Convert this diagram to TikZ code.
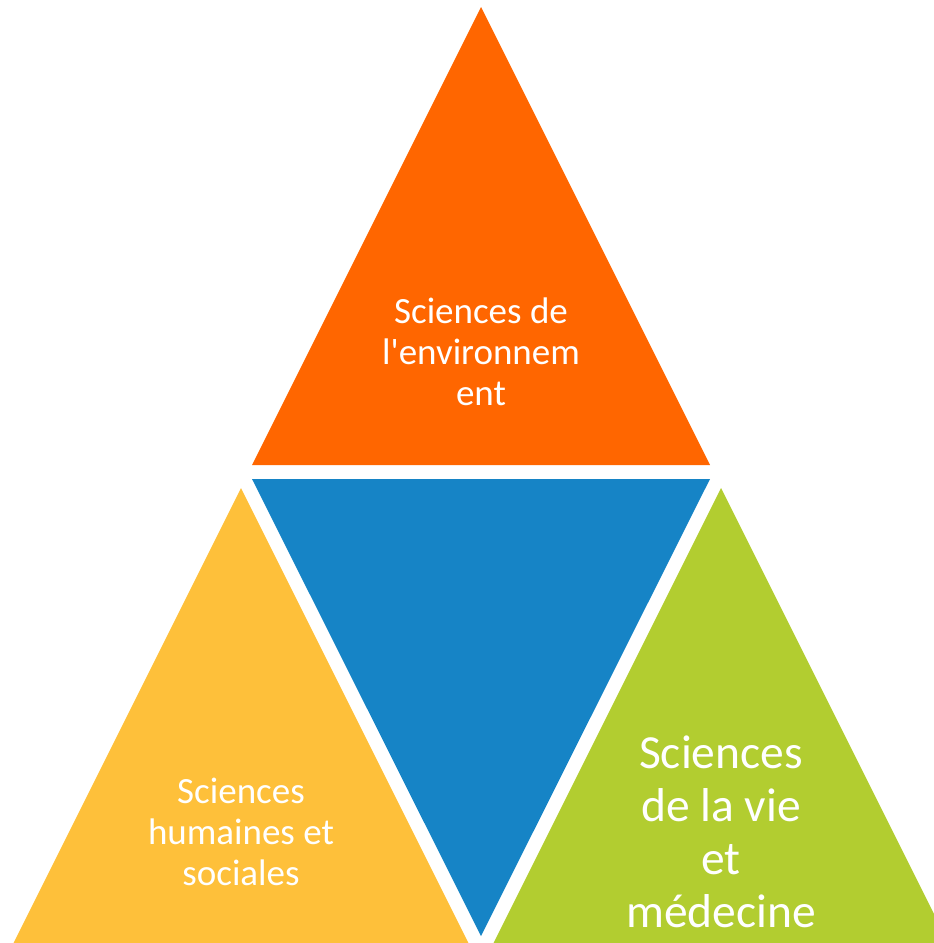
\documentclass[tikz,border=0pt]{standalone}
\usepackage{fontspec}
\newfontfamily\carlito{Carlito}
\usepackage{tikz}
\definecolor{envorange}{RGB}{255,102,0}
\definecolor{midblue}{RGB}{22,132,198}
\definecolor{humyellow}{RGB}{254,192,58}
\definecolor{viegreen}{RGB}{178,205,48}
\tikzstyle{areatext} = [text=white, align=center, font=\carlito\fontsize{37}{41}\selectfont]
\tikzstyle{bigtext} = [text=white, align=center, font=\carlito\fontsize{47.5}{53}\selectfont]
\begin{document}
\begin{tikzpicture}[x=1pt, y=-1pt]

	\useasboundingbox (0,0) rectangle (934,943);
	\clip (0,0) rectangle (934,943);


% Triangles

	\fill[envorange] (481,7) -- (710,465) -- (252,465) -- cycle;

	\fill[midblue] (252,479) -- (710,479) -- (481,936) -- cycle;

	\fill[humyellow] (241,488) -- (468.5,943) -- (13.5,943) -- cycle;

	\fill[viegreen] (721,488) -- (948.5,943) -- (493.5,943) -- cycle;


% Texts

	\node (envText) [areatext] at (481,352) {Sciences de\\l'environnem\\ent};

	\node (humText) [areatext] at (241,831.5) {Sciences\\humaines et\\sociales};

	\node (vieText) [bigtext] at (721,832) {Sciences\\de la vie\\et\\médecine};

\end{tikzpicture}
\end{document}
